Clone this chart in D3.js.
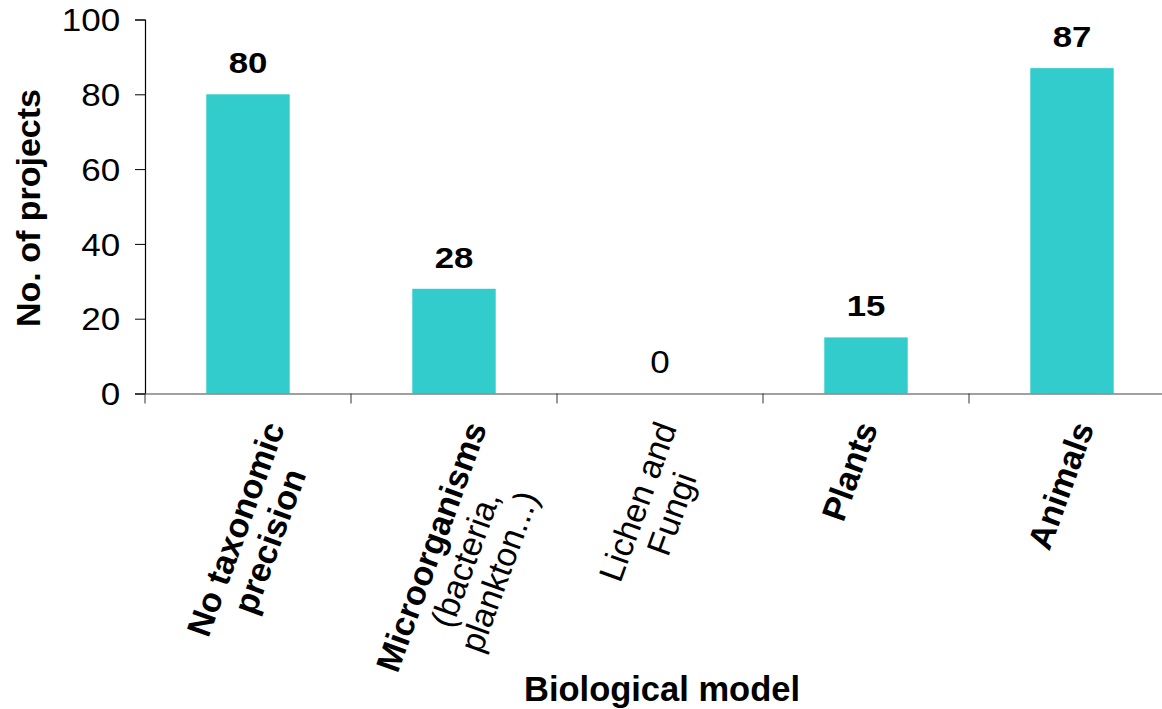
<!DOCTYPE html>
<html><head><meta charset="utf-8">
<script src="https://cdn.jsdelivr.net/npm/d3@7"></script>
<style>body{margin:0;background:#fff}svg text{font-family:"Liberation Sans",Arial,sans-serif;fill:#000}</style>
</head><body>
<svg id="chart" width="1162" height="709"></svg>
<script>
const categories = ["No taxonomic precision", "Microorganisms", "Lichen and Fungi", "Plants", "Animals"];
const values = [80, 28, 0, 15, 87];
const labelLines = [
  ["No taxonomic", "precision"],
  ["Microorganisms", "(bacteria,", "plankton...)"],
  ["Lichen and", "Fungi"],
  ["Plants"],
  ["Animals"]
];
const labelBold = [
  [true, true],
  [true, false, false],
  [false, false],
  [true],
  [true]
];
const yTicks = [0, 20, 40, 60, 80, 100];
const yTitle = "No. of projects";
const xTitle = "Biological model";

const svg = d3.select("#chart");
const x = d3.scaleBand().domain(categories).range([145, 1175]).padding(0);
const y = d3.scaleLinear().domain([0, 100]).range([393.5, 19.5]);
const barW = x.bandwidth() * 0.405;
const numStretch = 1.13;

// bars
svg.append("g").selectAll("rect").data(categories).join("rect")
  .attr("x", d => x(d) + x.bandwidth() / 2 - barW / 2)
  .attr("y", (d, i) => y(values[i]))
  .attr("width", barW)
  .attr("height", (d, i) => y(0) - y(values[i]))
  .attr("fill", "#33CCCC");

// y axis
const yAxis = svg.append("g").attr("transform", "translate(145,0)")
  .call(d3.axisLeft(y).tickValues(yTicks).tickSize(10).tickPadding(12).tickFormat(d3.format("d")));
yAxis.select(".domain").attr("stroke", "#000").attr("stroke-width", 1.2);
yAxis.selectAll(".tick line").attr("stroke", "#000");
yAxis.selectAll(".tick text").style("font-size", "31px").attr("dy", "0.36em")
  .attr("transform", `scale(${numStretch},1)`);

// x axis
const xAxis = svg.append("g").attr("transform", `translate(0,${y(0)})`)
  .call(d3.axisBottom(x).tickSize(0).tickFormat(""));
xAxis.select(".domain").attr("stroke", "#808080").attr("stroke-width", 1.5);
const bounds = categories.map(c => x(c)).concat([x.range()[1]]);
svg.append("g").selectAll("line").data(bounds).join("line")
  .attr("x1", d => d).attr("x2", d => d)
  .attr("y1", y(0)).attr("y2", y(0) + 10)
  .attr("stroke", "#333").attr("stroke-width", 1);

// value labels
svg.append("g").selectAll("text").data(categories).join("text")
  .attr("transform", (d, i) => `translate(${x(d) + x.bandwidth() / 2},${y(values[i]) - 21}) scale(${values[i] === 0 ? numStretch : 1.2},1)`)
  .attr("text-anchor", "middle")
  .style("font-size", (d, i) => values[i] === 0 ? "31px" : "29px")
  .style("font-weight", (d, i) => values[i] === 0 ? "normal" : "bold")
  .text((d, i) => values[i]);

// category labels (rotated -70°)
const fs = 34, lh = 36, ang = -70;
const rad = ang * Math.PI / 180, ca = Math.cos(rad), sa = Math.sin(rad);
const rot = (px, py) => [px * ca - py * sa, px * sa + py * ca];
categories.forEach((c, i) => {
  const outer = svg.append("g");
  const inner = outer.append("g").attr("transform", `rotate(${ang})`);
  const lines = labelLines[i];
  const t = inner.append("text").attr("text-anchor", "middle").style("font-size", fs + "px");
  lines.forEach((ln, j) => {
    t.append("tspan").attr("x", 0)
      .attr("y", (j - (lines.length - 1) / 2) * lh + fs * 0.35)
      .style("font-weight", labelBold[i][j] ? "bold" : "normal")
      .text(ln);
  });
  const bb = t.node().getBBox();
  const startMid = rot(bb.x, bb.y + bb.height / 2);
  const topEnd = rot(bb.x + bb.width, bb.y + fs * 0.19);
  const cx = x(c) + x.bandwidth() / 2;
  outer.attr("transform", `translate(${cx - 34 - startMid[0]},${419 - topEnd[1]})`);
});

// axis titles
svg.append("text")
  .attr("transform", "translate(40,208) rotate(-90)")
  .attr("text-anchor", "middle")
  .style("font-size", "34px").style("font-weight", "bold")
  .text(yTitle);
svg.append("text")
  .attr("x", 662).attr("y", 701)
  .attr("text-anchor", "middle")
  .style("font-size", "34.5px").style("font-weight", "bold")
  .text(xTitle);
</script>
</body></html>
